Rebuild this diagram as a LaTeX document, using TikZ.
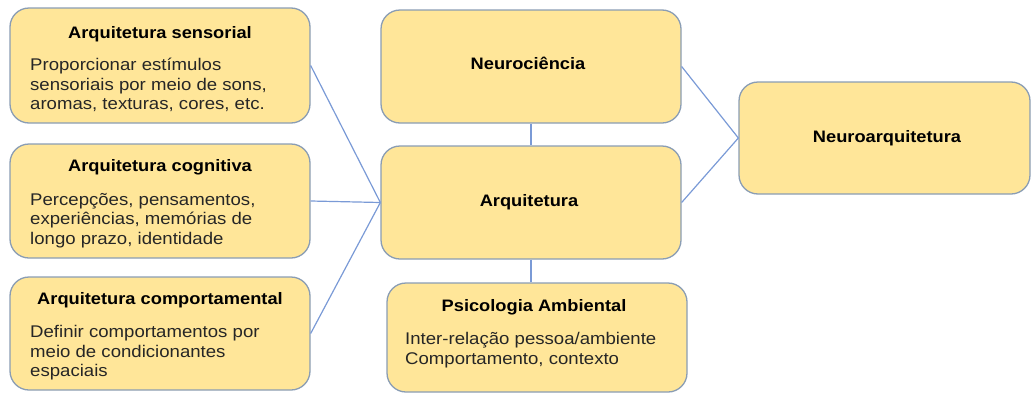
\documentclass[tikz,border=0pt]{standalone}
\usepackage{fontspec}
\setmainfont{Liberation Sans}[FakeStretch=1.1]
\definecolor{boxfill}{HTML}{FFE699}
\definecolor{boxline}{HTML}{8A9DB4}
\definecolor{conn}{HTML}{7A9AD6}
\definecolor{bodytxt}{HTML}{262626}
\newcommand\rowsoftext[1]{\begin{tabular}[t]{@{}l@{}}#1\end{tabular}}
\begin{document}
\begin{tikzpicture}[x=1pt,y=-1pt,
  box/.style={draw=boxline, line width=1.3pt, fill=boxfill, rounded corners=19pt, minimum width=300pt, inner sep=0pt},
  ttl/.style={font=\fontsize{16.6}{19.5}\selectfont\bfseries, inner sep=0pt, anchor=base},
  bodyt/.style={font=\fontsize{16.9}{19.5}\selectfont, text=bodytxt, inner sep=0pt, anchor=base west},
  link/.style={draw=conn, line width=1.2pt}]
\useasboundingbox (0,0) rectangle (1031,394);
% boxes
\node[box, minimum height=115pt] (sens) at (160,65.5) {};
\node[box, minimum height=114pt] (cog) at (160,201) {};
\node[box, minimum height=113pt] (comp) at (160,333.5) {};
\node[box, minimum height=113pt] (neuro) at (531,66.5) {};
\node[box, minimum height=113pt] (arq) at (531,202.5) {};
\node[box, minimum height=109pt] (psi) at (537,337.5) {};
\node[box, minimum height=112pt, minimum width=291pt] (narq) at (884.5,138) {};
% connectors
\draw[link] (sens.east) -- (arq.west);
\draw[link] (cog.east) -- (arq.west);
\draw[link] (comp.east) -- (arq.west);
\draw[link] (neuro.east) -- (narq.west);
\draw[link] (arq.east) -- (narq.west);
\draw[link] (neuro.south) -- (arq.north);
\draw[link] (arq.south) -- (arq.south |- psi.north);
% texts
\node[ttl] (senst) at (160,38) {Arquitetura sensorial};
\node[bodyt] (sensb) at (30,70.5) {\rowsoftext{Proporcionar estímulos\\sensoriais por meio de sons,\\aromas, texturas, cores, etc.}};
\node[ttl] (cogt) at (160,171) {Arquitetura cognitiva};
\node[bodyt] (cogb) at (30,205) {\rowsoftext{Percepções, pensamentos,\\experiências, memórias de\\longo prazo, identidade}};
\node[ttl] (compt) at (160,304) {Arquitetura comportamental};
\node[bodyt] (compb) at (30,337.5) {\rowsoftext{Definir comportamentos por\\meio de condicionantes\\espaciais}};
\node[ttl] (neurot) at (528,69) {Neurociência};
\node[ttl] (arqt) at (529,206) {Arquitetura};
\node[ttl] (narqt) at (887,142) {Neuroarquitetura};
\node[ttl] (psit) at (534,311) {Psicologia Ambiental};
\node[bodyt] (psib) at (405,344.5) {\rowsoftext{Inter-relação pessoa/ambiente\\Comportamento, contexto}};
\end{tikzpicture}
\end{document}
